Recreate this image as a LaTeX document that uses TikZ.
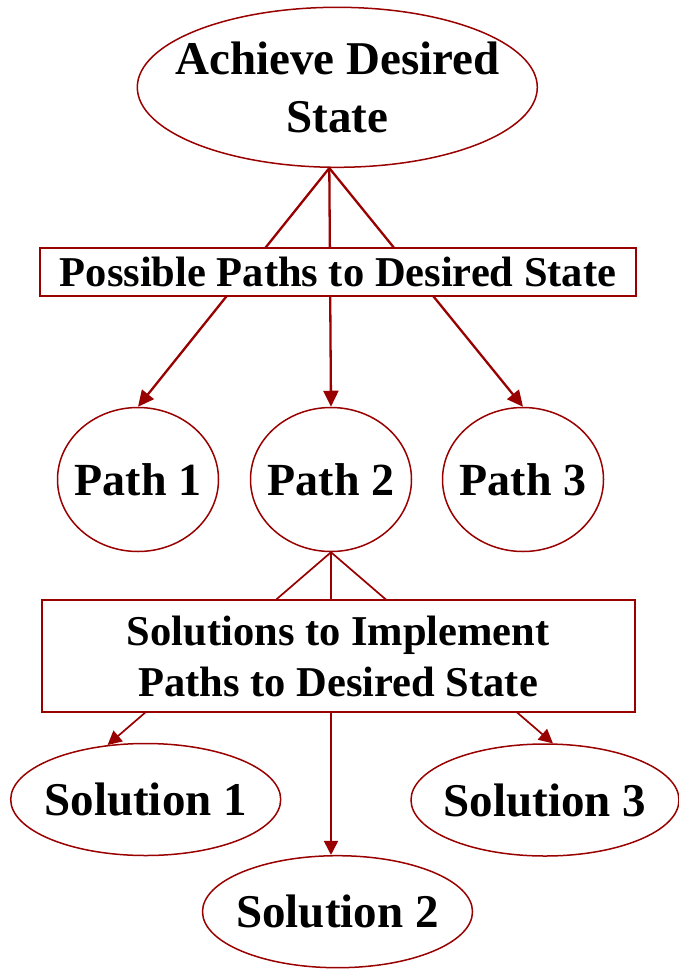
\documentclass[tikz,border=0pt]{standalone}
\usepackage{fontspec}
\setmainfont{Liberation Serif}
\usetikzlibrary{shapes.geometric,arrows.meta}
\definecolor{pathred}{RGB}{153,0,0}
\tikzset{
    goal/.style={ellipse,draw=pathred,line width=1.5pt,inner ysep=0pt,inner xsep=-30pt,align=center,
        minimum width=400pt,minimum height=160pt,font=\fontsize{47}{58}\selectfont\bfseries},
    pathnode/.style={ellipse,draw=pathred,line width=1.5pt,inner ysep=0pt,inner xsep=-30pt,
        minimum width=161pt,minimum height=144pt,font=\fontsize{46}{55}\selectfont\bfseries},
    solnode/.style={ellipse,draw=pathred,line width=1.5pt,inner ysep=0pt,inner xsep=-30pt,
        minimum width=270pt,minimum height=112pt,font=\fontsize{47}{56}\selectfont\bfseries},
    banner/.style={rectangle,draw=pathred,line width=2pt,fill=white,inner sep=0pt,align=center,
        font=\fontsize{42.5}{51}\selectfont\bfseries},
    lead/.style={draw=pathred,line width=2.3pt,-{Triangle[length=16pt,width=15pt]}},
    sublead/.style={draw=pathred,line width=1.7pt,-{Triangle[length=14pt,width=14pt]}}
}
\begin{document}
\begin{tikzpicture}[x=1pt,y=-1pt]
    \useasboundingbox (0,0) rectangle (679,969);
    % goal and paths
    \node[goal] (goal) at (337.3,87.3) {Achieve Desired\\State};
    \coordinate (apex) at ([xshift=-8pt]goal.south);
    \node[pathnode] (path1) at (138,479.5) {Path 1};
    \node[pathnode] (path2) at (331,479.5) {Path 2};
    \node[pathnode] (path3) at (523,479.5) {Path 3};
    % solutions
    \node[solnode] (sol1) at (145.7,799.5) {Solution 1};
    \node[solnode] (sol2) at (337.5,911.7) {Solution 2};
    \node[solnode,minimum width=268pt] (sol3) at (545,800) {Solution 3};
    \foreach \i in {1,2,3}
        \draw[lead] (apex) -- (path\i.north);
    \draw[sublead] (path2.south) -- (sol1.125);
    \draw[sublead] (path2.south) -- (path2.south |- sol2.north);
    \draw[sublead] (path2.south) -- (sol3.82);
    % labels over the lines
    \node[banner,minimum width=596pt,minimum height=48pt] (paths) at (338,271.7)
        {Possible Paths to Desired State};
    \node[banner,minimum width=592.5pt,minimum height=112pt] (solutions) at (338.3,656)
        {Solutions to Implement\\Paths to Desired State};
\end{tikzpicture}
\end{document}
